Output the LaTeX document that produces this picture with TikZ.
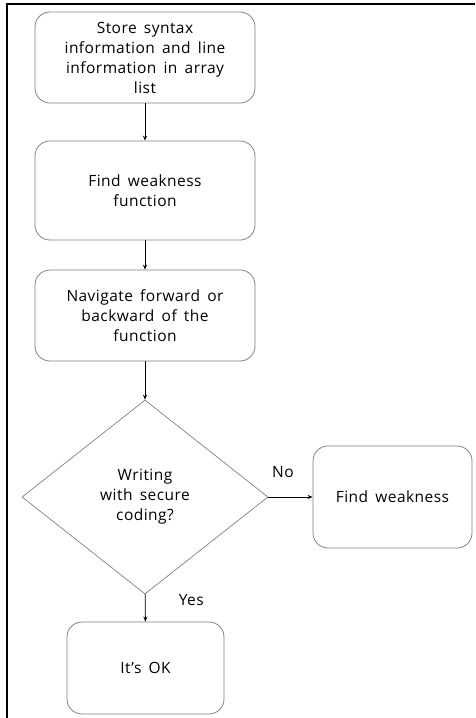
\documentclass[tikz,border=0pt]{standalone}
\usepackage{fontspec}
\setmainfont{Open Sans}[LetterSpace=3,WordSpace=1.6]
\usetikzlibrary{shapes.geometric,arrows.meta}
\tikzset{
  every label/.style={font=\fontsize{15.5}{20}\selectfont},
  stepbox/.style={draw=gray, line width=0.8pt, rounded corners=15pt, align=center,
    font=\fontsize{15.5}{20}\selectfont},
  decision/.style={draw=gray, line width=0.7pt, diamond, inner sep=0pt, align=center,
    font=\fontsize{15.5}{20}\selectfont},
  flow/.style={draw, line width=0.8pt, -{Stealth[length=5pt,width=4pt]}}
}
\begin{document}
\begin{tikzpicture}[x=1pt,y=-1pt]
\useasboundingbox (0,0) rectangle (475,718);
\draw[line width=1.6pt] (7,718) -- (7,4) -- (475,4);
\node[stepbox, minimum width=220pt, minimum height=91pt] (store) at (145,57.5) {Store syntax\\information and line\\information in array\\list};
\node[stepbox, minimum width=220pt, minimum height=99pt] (find) at (145,190.5) {Find weakness\\function};
\node[stepbox, minimum width=220pt, minimum height=91pt] (nav) at (145,315.5) {Navigate forward or\\backward of the\\function};
\node[decision, minimum width=246pt, minimum height=194pt] (secure) at (145,497) {Writing\\with secure\\coding?};
\node[stepbox, minimum width=159pt, minimum height=102pt] (weak) at (392.5,497) {Find weakness};
\node[stepbox, minimum width=157pt, minimum height=92pt] (ok) at (145.5,668) {It’s OK};
\path[flow] (store) -- (find);
\path[flow] (find) -- (nav);
\path[flow] (nav) -- (secure);
\path[flow] (secure) -- node[pos=0.33,label={[label distance=12pt]above:No}] {} (weak);
\path[flow] (secure) -- node[pos=0.2,label={[label distance=26pt]right:Yes}] {} (ok);
\end{tikzpicture}
\end{document}
